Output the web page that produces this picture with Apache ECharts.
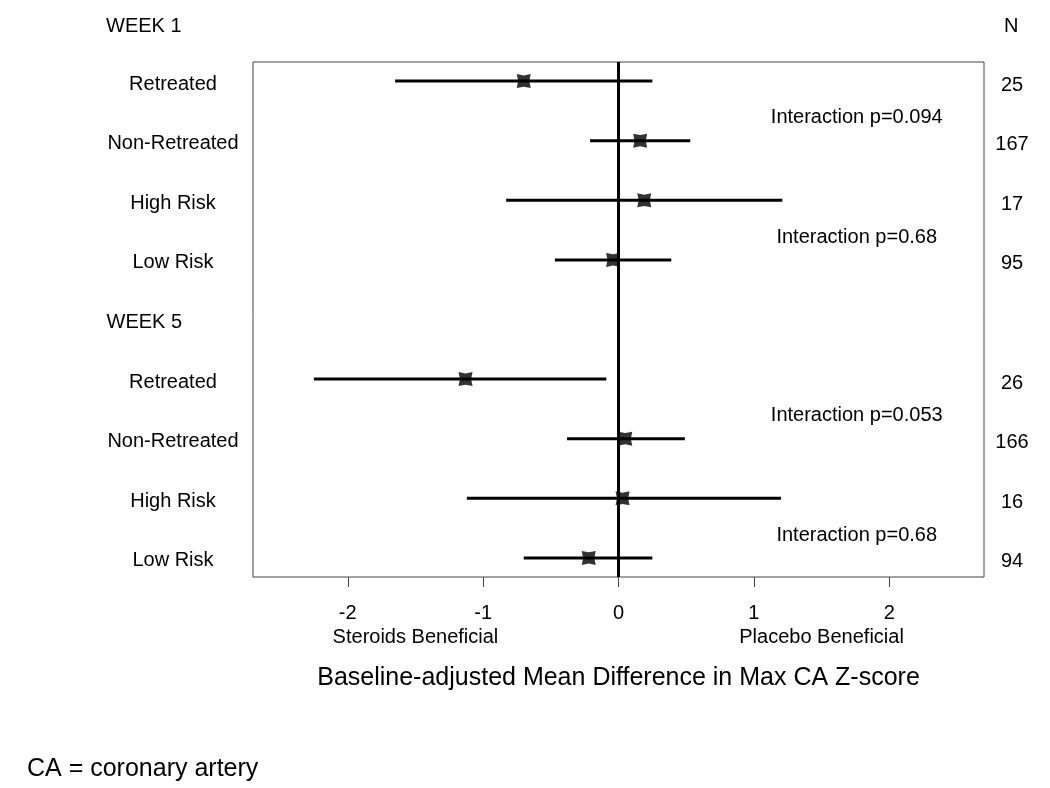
<!DOCTYPE html>
<html>
<head>
<meta charset="utf-8">
<script src="https://cdn.jsdelivr.net/npm/echarts@6/dist/echarts.min.js"></script>
<style>html,body{margin:0;padding:0;background:#fff;}#c{width:1050px;height:788px;}</style>
</head>
<body>
<div id="c"></div>
<script>
// ---- data ----
const rowLabels = ['Retreated','Non-Retreated','High Risk','Low Risk','WEEK 5','Retreated','Non-Retreated','High Risk','Low Risk'];
const estimates = [-0.70, 0.16, 0.19, -0.04, null, -1.13, 0.05, 0.03, -0.22];
const lowerCI   = [-1.65, -0.21, -0.83, -0.47, null, -2.25, -0.38, -1.12, -0.70];
const upperCI   = [0.25, 0.53, 1.21, 0.39, null, -0.09, 0.49, 1.20, 0.25];
const nValues   = [25, 167, 17, 95, null, 26, 166, 16, 94];
const interactionPairs = [[0,1],[2,3],[5,6],[7,8]];
const interactionText = ['Interaction p=0.094','Interaction p=0.68','Interaction p=0.053','Interaction p=0.68'];
const interactionX = 1.76;
const xTicks = [-2, -1, 0, 1, 2];
const sideLabelX = [-1.5, 1.5];
const sideLabels = ['Steroids Beneficial', 'Placebo Beneficial'];
const xTitle = 'Baseline-adjusted Mean Difference in Max CA Z-score';

const FONT = '"Liberation Sans", Arial, sans-serif';
const rowIdx = rowLabels.map((_, i) => i);
const nIdx = rowIdx.filter(i => nValues[i] !== null);
const ptIdx = rowIdx.filter(i => estimates[i] !== null);

const chart = echarts.init(document.getElementById('c'));
const marker = 'path://M0,0 L6,1.2 L12,0 L10.8,6 L12,12 L6,10.8 L0,12 L1.2,6 Z';

const option = {
  animation: false,
  textStyle: { fontFamily: FONT, color: '#000' },
  title: [
    { text: 'WEEK 1', left: 106, top: 16, padding: 0, textStyle: { fontFamily: FONT, fontSize: 20, fontWeight: 'normal', color: '#000' } },
    { text: 'N', left: 1004, top: 16, padding: 0, textStyle: { fontFamily: FONT, fontSize: 20, fontWeight: 'normal', color: '#000' } },
    { text: 'CA = coronary artery', left: 27, top: 757, padding: 0, textStyle: { fontFamily: FONT, fontSize: 25, fontWeight: 'normal', color: '#000' } }
  ],
  grid: { left: 253, top: 62, width: 731, height: 515, show: true, borderColor: '#444', borderWidth: 1, backgroundColor: 'transparent', containLabel: false },
  xAxis: [
    {
      type: 'value', min: -2.7, max: 2.7, position: 'bottom',
      splitLine: { show: false }, axisLine: { show: false, onZero: false },
      axisTick: { show: true, customValues: xTicks, length: 10, lineStyle: { color: '#444', width: 1 } },
      axisLabel: { customValues: xTicks, fontSize: 20, color: '#000', margin: 26, fontFamily: FONT },
      name: xTitle, nameLocation: 'middle', nameGap: 89,
      nameTextStyle: { fontSize: 25, color: '#000', fontFamily: FONT }
    },
    {
      type: 'value', min: -2.7, max: 2.7, position: 'bottom',
      splitLine: { show: false }, axisLine: { show: false, onZero: false }, axisTick: { show: false },
      axisLabel: {
        customValues: sideLabelX, fontSize: 20, color: '#000', margin: 50, fontFamily: FONT,
        formatter: v => sideLabels[sideLabelX.indexOf(v)] || ''
      }
    }
  ],
  yAxis: [
    {
      type: 'value', inverse: true, min: -0.32, max: 8.32, position: 'left',
      splitLine: { show: false }, axisLine: { show: false, onZero: false }, axisTick: { show: false },
      axisLabel: {
        customValues: rowIdx, align: 'center', margin: 80, fontSize: 20, color: '#000', fontFamily: FONT,
        formatter: v => (rowLabels[v] === 'WEEK 5' ? '{wk|' + rowLabels[v] + '}' : '{rl|' + rowLabels[v] + '}'),
        rich: {
          wk: { width: 133, align: 'left', fontSize: 20, fontFamily: FONT, color: '#000', padding: [5, 0, 0, 0] },
          rl: { align: 'center', fontSize: 20, fontFamily: FONT, color: '#000', padding: [6, 0, 0, 0] }
        }
      }
    },
    {
      type: 'value', inverse: true, min: -0.32, max: 8.32, position: 'right',
      splitLine: { show: false }, axisLine: { show: false, onZero: false }, axisTick: { show: false },
      axisLabel: {
        customValues: nIdx, align: 'center', margin: 28, fontSize: 20, color: '#000', fontFamily: FONT,
        formatter: v => '{n|' + nValues[v] + '}',
        rich: { n: { align: 'center', fontSize: 20, fontFamily: FONT, color: '#000', padding: [8, 0, 0, 0] } }
      }
    }
  ],
  series: [
    {
      type: 'line', xAxisIndex: 0, yAxisIndex: 0, symbol: 'none',
      data: [[0, -0.32], [0, 8.32]],
      lineStyle: { color: '#000', width: 3 }, z: 2, silent: true
    },
    {
      type: 'custom', xAxisIndex: 0, yAxisIndex: 0, z: 3,
      data: ptIdx.map(i => [lowerCI[i], upperCI[i], i]),
      encode: { x: [0, 1], y: 2 },
      renderItem: (params, api) => {
        const a = api.coord([api.value(0), api.value(2)]);
        const b = api.coord([api.value(1), api.value(2)]);
        return { type: 'line', shape: { x1: a[0], y1: a[1], x2: b[0], y2: b[1] }, style: { stroke: '#000', lineWidth: 3 } };
      }
    },
    {
      type: 'scatter', xAxisIndex: 0, yAxisIndex: 0, z: 4,
      symbol: marker, symbolSize: 14,
      itemStyle: { color: '#000' },
      data: ptIdx.map(i => [estimates[i], i])
    },
    {
      type: 'custom', xAxisIndex: 0, yAxisIndex: 0, z: 5,
      data: interactionPairs.map((p, k) => [interactionX, (p[0] + p[1]) / 2, k]),
      encode: { x: 0, y: 1 },
      renderItem: (params, api) => {
        const c = api.coord([api.value(0), api.value(1)]);
        return {
          type: 'text', x: c[0], y: c[1] + 7,
          style: { text: interactionText[api.value(2)], fontSize: 20, fontFamily: FONT, fill: '#000', align: 'center', verticalAlign: 'middle' }
        };
      }
    }
  ]
};
chart.setOption(option);
</script>
</body>
</html>
